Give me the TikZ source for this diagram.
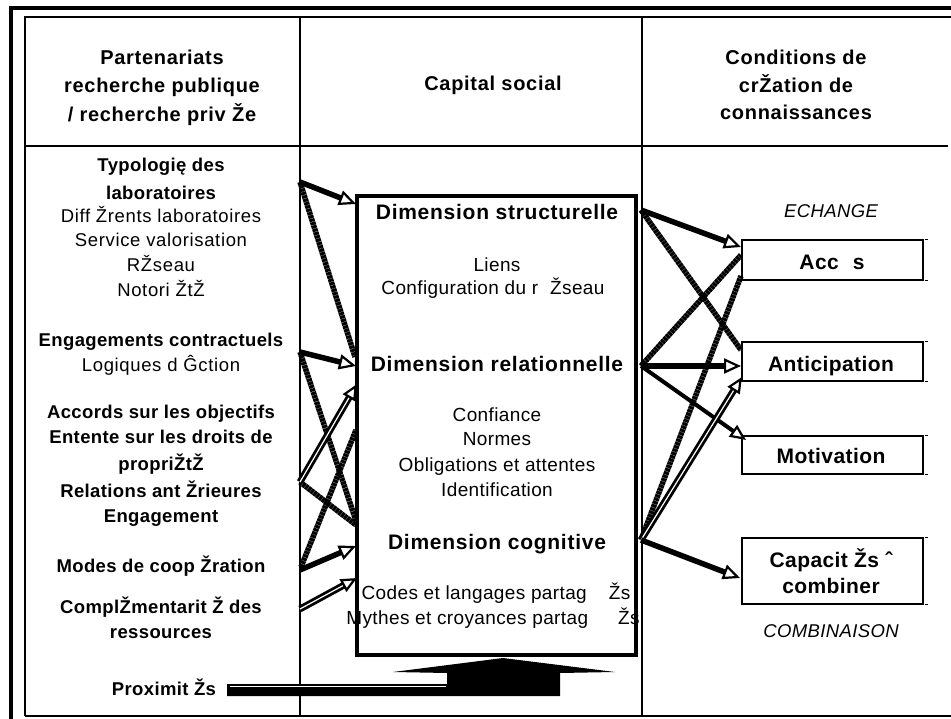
\documentclass[tikz,border=0pt]{standalone}
\usepackage{fontspec}
\setmainfont{Liberation Sans}
\newfontfamily\fA[LetterSpace=2]{Liberation Sans}
\newfontfamily\fB[LetterSpace=3.5]{Liberation Sans}
\usetikzlibrary{arrows.meta}
\begin{document}
\begin{tikzpicture}[x=1pt,y=-1pt,
  every node/.style={inner sep=0pt, anchor=base},
  hdr/.style={font=\fB\bfseries\fontsize{20}{24}\selectfont},
  lb/.style={font=\fA\bfseries\fontsize{18.5}{22}\selectfont},
  lr/.style={font=\fB\fontsize{18.5}{22}\selectfont},
  mb/.style={font=\fB\bfseries\fontsize{21}{24}\selectfont},
  mr/.style={font=\fA\fontsize{19}{22}\selectfont},
  rb/.style={font=\fA\bfseries\fontsize{21}{24}\selectfont},
  itl/.style={font=\fA\itshape\fontsize{18.5}{22}\selectfont},
  cbox/.style={draw, line width=1.4pt, minimum width=181pt, anchor=center},
  thk/.style={line width=5.5pt, -{Triangle[length=17pt,width=15pt,fill=white,line width=2.2pt]}},
  thn/.style={line width=4pt, -{Triangle[length=16pt,width=14pt,fill=white,line width=2.2pt]}},
  dbl/.style={double, double distance=1.2pt, line width=2.8pt, -{Triangle[length=16pt,width=14pt,fill=white,line width=2.2pt]}},
  fz/.style={line width=5.5pt, dash pattern=on 3pt off 0.5pt},
]
\useasboundingbox (0,0) rectangle (951,719);
\fill[white] (0,0) rectangle (951,719);

% frames and table
\draw[line width=3.5pt] (11,719) -- (11,8) -- (951,8);
\draw[line width=1.6pt] (951,17) -- (25,17) -- (25,716);
\draw[line width=2.4pt] (25,716) -- (951,716);
\draw[line width=1.2pt] (300,17) -- (300,716);
\draw[line width=1.2pt] (642,17) -- (642,716);
\draw[line width=1.2pt] (25,146) -- (948,146);

% headers
\node[hdr] (h1) at (162,65) {Partenariats};
\node[hdr] (h2) at (162,93) {recherche publique};
\node[hdr] (h3) at (162,122) {/ recherche priv Že};
\node[hdr] (h4) at (493,91) {Capital social};
\node[hdr] (h5) at (796,65) {Conditions de};
\node[hdr] (h6) at (796,93) {crŽation de};
\node[hdr] (h7) at (796,120) {connaissances};

% left column
\node[lb] (l1) at (161,172) {Typologię des};
\node[lb] (l2) at (161,200) {laboratoires};
\node[lr] (l3) at (161,223) {Diff Žrents laboratoires};
\node[lr] (l4) at (161,247) {Service valorisation};
\node[lr] (l5) at (161,272) {RŽseau};
\node[lr] (l6) at (161,297) {Notori ŽtŽ};
\node[lb] (l7) at (161,347) {Engagements contractuels};
\node[lr] (l8) at (161,372) {Logiques d Ĝction};
\node[lb] (l9) at (161,418) {Accords sur les objectifs};
\node[lb] (l10) at (161,443) {Entente sur les droits de};
\node[lb] (l11) at (161,470) {propriŽtŽ};
\node[lb] (l12) at (161,497) {Relations ant Žrieures};
\node[lb] (l13) at (161,522) {Engagement};
\node[lb] (l14) at (161,572) {Modes de coop Žration};
\node[lb] (l15) at (161,613) {ComplŽmentarit Ž des};
\node[lb] (l16) at (161,638) {ressources};
\node[lb] (l17) at (164,695) {Proximit Žs};

% middle box
\node[draw, line width=3.5pt, minimum width=279pt, minimum height=459pt, anchor=center] (capbox) at (496.5,425.5) {};
\node[mb] (m1) at (497,220) {Dimension structurelle};
\node[mr] (m2) at (497,272) {Liens};
\node[mr] (m3) at (493,295) {Configuration du r\hspace{12pt}Žseau};
\node[mb] (m4) at (497,372) {Dimension relationnelle};
\node[mr] (m5) at (497,421) {Confiance};
\node[mr] (m6) at (497,446) {Normes};
\node[mr] (m7) at (497,471) {Obligations et attentes};
\node[mr] (m8) at (497,496) {Identification};
\node[mb] (m9) at (497,549) {Dimension cognitive};
\node[mr] (m10) at (496,599) {Codes et langages partag\hspace{22pt}Žs};
\node[mr] (m11) at (493,624) {Mythes et croyances partag\hspace{30pt}Žs};

% right column
\node[itl] (e1) at (831,218) {ECHANGE};
\node[cbox, minimum height=40pt] (acc) at (832.5,260) {};
\node[cbox, minimum height=39pt] (ant) at (832.5,361.5) {};
\node[cbox, minimum height=38pt] (mot) at (832.5,455) {};
\node[cbox, minimum height=66pt] (capb) at (832.5,571) {};
\node[rb] (t1) at (832,270) {Acc\hspace{14pt}s};
\node[rb] (t2) at (831,372) {Anticipation};
\node[rb] (t3) at (831,463) {Motivation};
\node[rb] (t4) at (831,567) {Capacit Žs ˆ};
\node[rb] (t5) at (831,593) {combiner};
\node[itl] (e2) at (831,637) {COMBINAISON};
\foreach \b in {acc,ant,mot,capb}{
  \draw[line width=0.9pt] ([xshift=1pt]\b.north east) -- ([xshift=4pt]\b.north east);
  \draw[line width=0.9pt] ([xshift=1pt]\b.south east) -- ([xshift=4pt]\b.south east);
}

% Proximites block arrow
\fill (227,684) -- (447,684) -- (447,673) -- (393,672) -- (503,658) -- (615,672)
      -- (560,673) -- (560,696) -- (227,696) -- cycle;
\draw[white, line width=0.8pt] (230,686.5) -- (446,686.5);

% connector end points
\coordinate (a1) at (300,182);
\coordinate (b1) at (356,204);
\coordinate (b2) at (355,357);
\coordinate (a3) at (300,352);
\coordinate (b3) at (356,366);
\coordinate (b4) at (356,521);
\coordinate (a5) at (300,482);
\coordinate (b5) at (357,384);
\coordinate (b6) at (356,525);
\coordinate (a7) at (301,567);
\coordinate (b7) at (356,430);
\coordinate (a8) at (300,570);
\coordinate (b8) at (356,546);
\coordinate (a9) at (300,609);
\coordinate (b9) at (357,578);

\coordinate (c1) at (641,210);
\coordinate (d1) at (741,247);
\coordinate (d2) at (741,350);
\coordinate (c3) at (641,366);
\coordinate (d3) at (741,366);
\coordinate (d4) at (741,255);
\coordinate (d5) at (746,440);
\coordinate (c6) at (641,540);
\coordinate (d6) at (742,377);
\coordinate (d7) at (741,276);
\coordinate (d8) at (740,578);

% fuzzy connectors
\draw[fz] (a1) -- (b2);
\draw[fz] (a3) -- (b4);
\draw[fz] (a5) -- (b6);
\draw[fz] (a7) -- (b7);
\draw[fz] (c1) -- (d2);
\draw[fz] (c3) -- (d4);
\draw[fz] (c6) -- (d7);

% arrows
\draw[thk] (a1) -- (b1);
\draw[thk] (a3) -- (b3);
\draw[dbl] (a5) -- (b5);
\draw[thk] (a8) -- (b8);
\draw[dbl] (a9) -- (b9);
\draw[thk] (c1) -- (d1);
\draw[thk] (c3) -- (d3);
\draw[thn] (c3) -- (d5);
\draw[dbl] (c6) -- (d6);
\draw[thk] (c6) -- (d8);
\end{tikzpicture}
\end{document}
